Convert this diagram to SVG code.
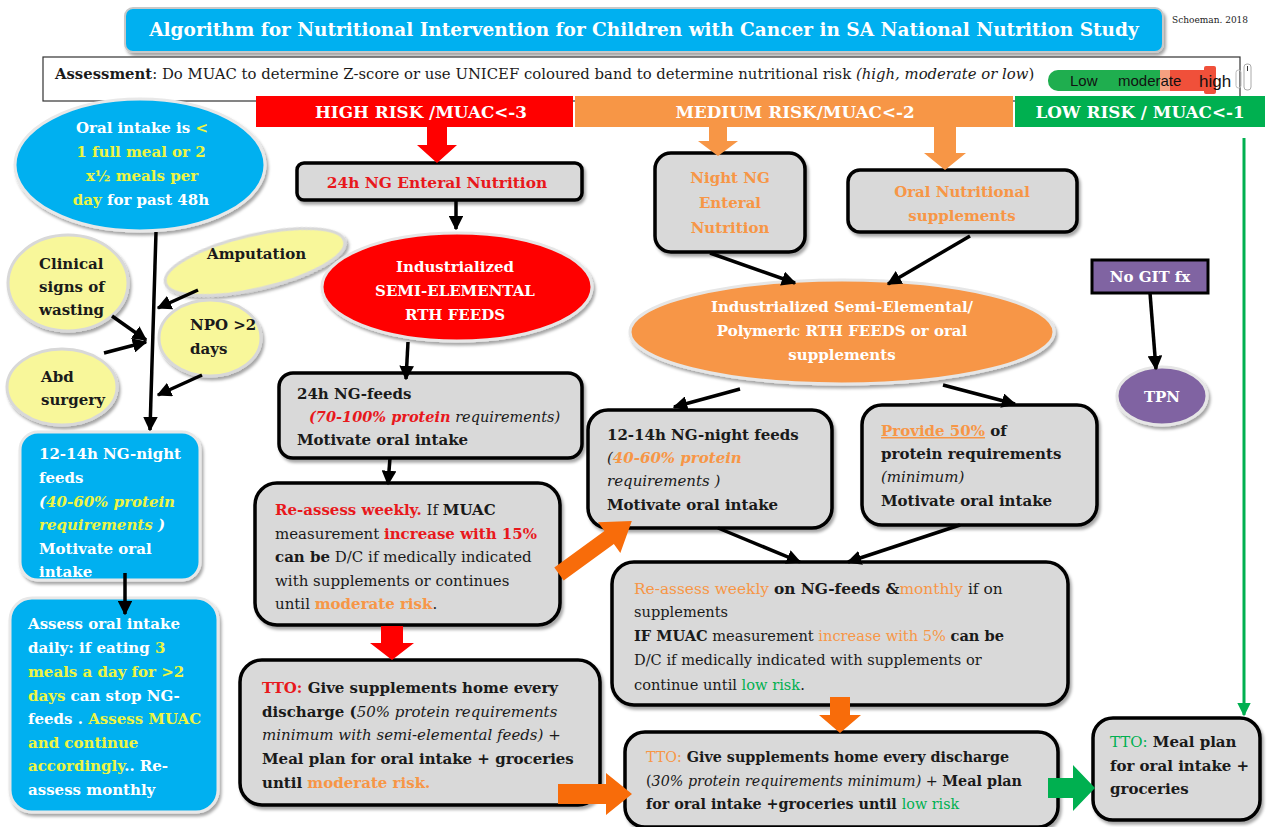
<svg xmlns="http://www.w3.org/2000/svg" width="1274" height="827" viewBox="0 0 1274 827">
<defs>
<filter id="sh" x="-10%" y="-10%" width="130%" height="140%">
<feDropShadow dx="2" dy="3" stdDeviation="1.8" flood-color="#000" flood-opacity="0.35"/>
</filter>
<marker id="ah" viewBox="0 0 10 10" refX="9" refY="5" markerWidth="4.2" markerHeight="4.2" orient="auto-start-reverse">
<path d="M0,0 L10,5 L0,10 z" fill="#000"/>
</marker>
<marker id="ahg" viewBox="0 0 10 10" refX="9" refY="5" markerWidth="4.5" markerHeight="4.5" orient="auto">
<path d="M0,0 L10,5 L0,10 z" fill="#00b050"/>
</marker>
<style>
text{font-family:"DejaVu Serif","Liberation Serif",serif;font-size:15px;fill:#1a1a1a}
.b{font-weight:bold}
.i{font-style:italic}
.n{font-weight:normal}
.w{fill:#fff}
.y{fill:#eef542}
.r{fill:#e8181c}
.o{fill:#f79646}
.g{fill:#00b050}
.c{text-anchor:middle}
.box{fill:#d9d9d9;stroke:#000;stroke-width:3.5;filter:url(#sh)}
.blue{fill:#00b0f0;stroke:#e8e8e8;stroke-width:3;filter:url(#sh)}
.yel{fill:#f8f79a;stroke:#d8d8d8;stroke-width:3;filter:url(#sh)}
.ln{stroke:#000;stroke-width:3.5;fill:none;marker-end:url(#ah)}
.sans{font-family:"Liberation Sans","DejaVu Sans",sans-serif}
</style>
</defs>

<g id="title">
<rect x="125" y="8" width="1038" height="44" rx="8" fill="#00b0f0" stroke="#c8c8c8" stroke-width="2" filter="url(#sh)"/>
<text x="644" y="36" class="b w c" style="font-size:18.5px">Algorithm for Nutritional Intervention for Children with Cancer in SA National Nutrition Study</text>
<text x="1172" y="23" style="font-size:9px">Schoeman. 2018</text>
</g>

<g id="assessment">
<rect x="43" y="57" width="1197" height="44" fill="#fff" stroke="#333" stroke-width="1.2"/>
<text x="55" y="79" style="font-size:14.85px"><tspan class="b">Assessment</tspan>: Do MUAC to determine Z-score or use UNICEF coloured band to determine nutritional risk <tspan class="i">(high, moderate or low</tspan>)</text>
<rect x="1048" y="70" width="124" height="21" rx="10" fill="#1fae4f"/>
<rect x="1160" y="70" width="10" height="21" fill="#f5a080"/>
<rect x="1170" y="70" width="36" height="21" fill="#f0503a"/>
<rect x="1204" y="66" width="12" height="28" rx="2" fill="#f0503a"/>
<text x="1070" y="86" class="sans" style="font-size:15px;fill:#111">Low</text>
<text x="1118" y="86" class="sans" style="font-size:15px;fill:#111">moderate</text>
<text x="1199" y="87" class="sans" style="font-size:17px;fill:#111">high</text>
<rect x="1236" y="70" width="5" height="18" rx="2.5" fill="none" stroke="#bbb" stroke-width="1"/>
<rect x="1244" y="64" width="7" height="26" rx="3" fill="none" stroke="#aaa" stroke-width="1"/>
<line x1="1247.5" y1="66" x2="1247.5" y2="71" stroke="#333" stroke-width="1"/>
</g>

<g id="bands">
<rect x="256" y="96" width="317" height="31" fill="#ff0000"/>
<text x="421" y="118" class="b w c" style="font-size:16.8px">HIGH RISK /MUAC&lt;-3</text>
<rect x="575" y="96" width="438" height="31" fill="#f79646"/>
<text x="795" y="118" class="b w c" style="font-size:16.8px">MEDIUM  RISK/MUAC&lt;-2</text>
<rect x="1015" y="96" width="250" height="31" fill="#00b050"/>
<text x="1140" y="118" class="b w c" style="font-size:16.8px">LOW RISK / MUAC&lt;-1</text>
</g>

<g id="oral-intake">
<ellipse cx="140" cy="165" rx="125" ry="66" class="blue"/>
<text x="142" y="133" class="b c"><tspan class="w">Oral intake is </tspan><tspan class="y">&lt;</tspan></text>
<text x="141" y="157" class="b c y">1 full meal or 2</text>
<text x="142" y="181" class="b c y">x½ meals per</text>
<text x="141" y="205" class="b c"><tspan class="y">day</tspan><tspan class="w"> for  past 48h</tspan></text>
</g>

<g id="clinical-signs">
<ellipse cx="68" cy="283" rx="60" ry="48" class="yel"/>
<text x="39" y="269" class="b">Clinical</text>
<text x="39" y="292" class="b">signs of</text>
<text x="39" y="315" class="b">wasting</text>
</g>
<g id="amputation">
<ellipse cx="255" cy="262" rx="92" ry="27" transform="rotate(-13 255 262)" class="yel"/>
<text x="207" y="259" class="b">Amputation</text>
</g>
<g id="npo">
<ellipse cx="210" cy="338" rx="51" ry="38" class="yel"/>
<text x="190" y="330" class="b">NPO &gt;2</text>
<text x="190" y="354" class="b">days</text>
</g>
<g id="abd-surgery">
<ellipse cx="62" cy="387" rx="55" ry="38" class="yel"/>
<text x="41" y="382" class="b">Abd</text>
<text x="41" y="405" class="b">surgery</text>
</g>

<g id="night-feeds-blue">
<rect x="20" y="432" width="180" height="148" rx="18" class="blue"/>
<text x="39" y="459" class="b w">12-14h NG-night</text>
<text x="39" y="483" class="b w">feeds</text>
<text x="39" y="507" class="b i"><tspan class="w">(</tspan><tspan class="y">40-60% protein</tspan></text>
<text x="39" y="530" class="b i"><tspan class="y">requirements </tspan><tspan class="w"> )</tspan></text>
<text x="39" y="554" class="b w">Motivate oral</text>
<text x="39" y="577" class="b w">intake</text>
</g>

<g id="assess-daily">
<rect x="10" y="598" width="208" height="214" rx="22" class="blue"/>
<text x="28" y="629" class="b w">Assess oral intake</text>
<text x="28" y="653" class="b"><tspan class="w">daily: if eating </tspan><tspan class="y">3</tspan></text>
<text x="28" y="677" class="b y">meals a day for &gt;2</text>
<text x="28" y="701" class="b"><tspan class="y">days</tspan><tspan class="w"> can stop NG-</tspan></text>
<text x="28" y="724" class="b"><tspan class="w">feeds . </tspan><tspan class="y">Assess MUAC</tspan></text>
<text x="28" y="748" class="b y">and continue</text>
<text x="28" y="771" class="b"><tspan class="y">accordingly</tspan><tspan class="w">.. Re-</tspan></text>
<text x="28" y="795" class="b w">assess monthly</text>
</g>

<g id="ng-enteral-24h">
<rect x="297" y="163" width="285" height="37" rx="7" class="box"/>
<text x="437" y="188" class="b r c" style="font-size:15.4px">24h NG Enteral Nutrition</text>
</g>

<g id="semi-elemental">
<ellipse cx="457" cy="287" rx="135" ry="54" fill="#ff0000" stroke="#e6e6e6" stroke-width="3" filter="url(#sh)"/>
<text x="455" y="272" class="b w c">Industrialized</text>
<text x="455" y="296" class="b w c">SEMI-ELEMENTAL</text>
<text x="455" y="320" class="b w c">RTH FEEDS</text>
</g>

<g id="ng-feeds-24h">
<rect x="279" y="373" width="303" height="85" rx="14" class="box"/>
<text x="297" y="399" class="b">24h NG-feeds</text>
<text x="309" y="422" class="i" style="font-size:14.5px"><tspan class="b r">(70-100% protein</tspan> requirements)</text>
<text x="297" y="445" class="b">Motivate oral intake</text>
</g>

<g id="reassess-high">
<rect x="255" y="483" width="305" height="142" rx="22" class="box"/>
<text x="275" y="515"><tspan class="b r">Re-assess weekly.</tspan>  If <tspan class="b">MUAC</tspan></text>
<text x="275" y="539">measurement  <tspan class="b r">increase with 15%</tspan></text>
<text x="275" y="562"><tspan class="b">can be</tspan> D/C if medically indicated</text>
<text x="275" y="586">with supplements  or continues</text>
<text x="275" y="609">until <tspan class="b o">moderate risk</tspan>.</text>
</g>

<g id="tto-high">
<rect x="240" y="660" width="360" height="145" rx="22" class="box"/>
<text x="262" y="693" class="b"><tspan class="r">TTO:</tspan> Give supplements home every</text>
<text x="262" y="717" class="b">discharge (<tspan class="i n">50% protein requirements</tspan></text>
<text x="262" y="740" class="i">minimum with semi-elemental feeds) +</text>
<text x="262" y="764" class="b">Meal plan for oral intake + groceries</text>
<text x="262" y="788" class="b">until <tspan class="o">moderate risk.</tspan></text>
</g>

<g id="night-ng">
<rect x="655" y="153" width="150" height="99" rx="16" class="box"/>
<text x="730" y="183" class="b o c">Night NG</text>
<text x="730" y="208" class="b o c">Enteral</text>
<text x="730" y="233" class="b o c">Nutrition</text>
</g>

<g id="oral-supplements">
<rect x="848" y="170" width="229" height="62" rx="12" class="box"/>
<text x="962" y="197" class="b o c">Oral Nutritional</text>
<text x="962" y="221" class="b o c">supplements</text>
</g>

<g id="polymeric">
<ellipse cx="842" cy="332" rx="212" ry="52" fill="#f79646" stroke="#e6e6e6" stroke-width="3" filter="url(#sh)"/>
<text x="842" y="312" class="b w c">Industrialized Semi-Elemental/</text>
<text x="842" y="336" class="b w c">Polymeric RTH FEEDS or oral</text>
<text x="842" y="360" class="b w c">supplements</text>
</g>

<g id="night-feeds-medium">
<rect x="588" y="410" width="244" height="118" rx="20" class="box"/>
<text x="607" y="440" class="b">12-14h NG-night feeds</text>
<text x="607" y="463" class="i">(<tspan class="b o">40-60% protein</tspan></text>
<text x="607" y="486" class="i">requirements )</text>
<text x="607" y="510" class="b">Motivate  oral intake</text>
</g>

<g id="provide-50">
<rect x="862" y="405" width="235" height="120" rx="20" class="box"/>
<text x="881" y="436" class="b"><tspan class="o" text-decoration="underline">Provide 50%</tspan> of</text>
<text x="881" y="459" class="b">protein requirements</text>
<text x="881" y="482" class="i">(minimum)</text>
<text x="881" y="506" class="b">Motivate  oral intake</text>
</g>

<g id="reassess-medium">
<rect x="612" y="562" width="456" height="143" rx="22" class="box"/>
<text x="634" y="594" style="font-size:15.4px"><tspan class="o">Re-assess weekly</tspan> <tspan class="b">on NG-feeds &amp;</tspan><tspan class="o">monthly</tspan>  if on</text>
<text x="634" y="617" style="font-size:14.6px">supplements</text>
<text x="634" y="641" style="font-size:14.6px"><tspan class="b">IF MUAC</tspan> measurement   <tspan class="o">increase with 5%</tspan> <tspan class="b">can be</tspan></text>
<text x="634" y="665" style="font-size:14.6px">D/C if medically  indicated  with supplements  or</text>
<text x="634" y="690" style="font-size:14.6px">continue  until <tspan class="g">low risk</tspan>.</text>
</g>

<g id="tto-medium">
<rect x="625" y="732" width="433" height="95" rx="20" class="box"/>
<text x="646" y="762" class="b" style="font-size:14.3px"><tspan class="o n">TTO:</tspan> Give supplements home every discharge</text>
<text x="646" y="786" style="font-size:14.3px">(<tspan class="i">30% protein requirements minimum)</tspan> + <tspan class="b">Meal plan</tspan></text>
<text x="646" y="809" class="b" style="font-size:14.3px">for oral intake +groceries until <tspan class="g n">low risk</tspan></text>
</g>

<g id="no-git">
<rect x="1092" y="260" width="116" height="33" fill="#8064a2" stroke="#000" stroke-width="3"/>
<text x="1150" y="282" class="b w c">No GIT fx</text>
</g>

<g id="tpn">
<ellipse cx="1162" cy="396" rx="45" ry="29" fill="#8064a2" stroke="#e6e6e6" stroke-width="3" filter="url(#sh)"/>
<text x="1162" y="402" class="b w c">TPN</text>
</g>

<g id="tto-low">
<rect x="1093" y="718" width="167" height="102" rx="20" class="box"/>
<text x="1110" y="747" class="b"><tspan class="g n">TTO:</tspan> Meal plan</text>
<text x="1110" y="771" class="b">for oral intake +</text>
<text x="1110" y="794" class="b">groceries</text>
</g>

<g id="connectors">
<line x1="156" y1="232" x2="150" y2="430" class="ln"/>
<line x1="198" y1="290" x2="158" y2="308" class="ln"/>
<line x1="112" y1="316" x2="146" y2="340" class="ln"/>
<line x1="104" y1="353" x2="146" y2="342" class="ln"/>
<line x1="202" y1="375" x2="158" y2="395" class="ln"/>
<line x1="125" y1="573" x2="125" y2="614" class="ln"/>
<line x1="456" y1="200" x2="456" y2="229" class="ln"/>
<line x1="408" y1="342" x2="406" y2="379" class="ln"/>
<line x1="390" y1="458" x2="388" y2="484" class="ln"/>
<line x1="710" y1="253" x2="795" y2="283" class="ln"/>
<line x1="970" y1="236" x2="888" y2="284" class="ln"/>
<line x1="740" y1="389" x2="674" y2="407" class="ln"/>
<line x1="943" y1="385" x2="1015" y2="404" class="ln"/>
<line x1="718" y1="528" x2="800" y2="562" class="ln"/>
<line x1="960" y1="525" x2="848" y2="562" class="ln"/>
<line x1="1150" y1="293" x2="1156" y2="369" class="ln"/>
<line x1="1244" y1="138" x2="1244" y2="715" stroke="#00b050" stroke-width="3" marker-end="url(#ahg)"/>
<polygon points="427,127 447,127 447,145 457,145 437,163 417,145 427,145" fill="#ff0000"/>
<polygon points="381,626 403,626 403,643 414,643 392,660 370,643 381,643" fill="#ff0000"/>
<polygon points="709,127 727,127 727,141 738,141 718,156 698,141 709,141" fill="#f79646"/>
<polygon points="934,127 956,127 956,153 966,153 945,170 924,153 934,153" fill="#f79646"/>
<polygon points="830,697 850,697 850,715 861,715 840,733 819,715 830,715" fill="#f86c0a"/>
<polygon points="558,784 606,784 606,773 632,794 606,815 606,804 558,804" fill="#f86c0a"/>
<polygon points="0,-8 62,-8 62,-19 90,0 62,19 62,8 0,8" transform="translate(559,574) rotate(-36)" fill="#f86c0a"/>
<polygon points="1048,778 1073,778 1073,765 1095,788 1073,811 1073,798 1048,798" fill="#00b050"/>
</g>
</svg>
